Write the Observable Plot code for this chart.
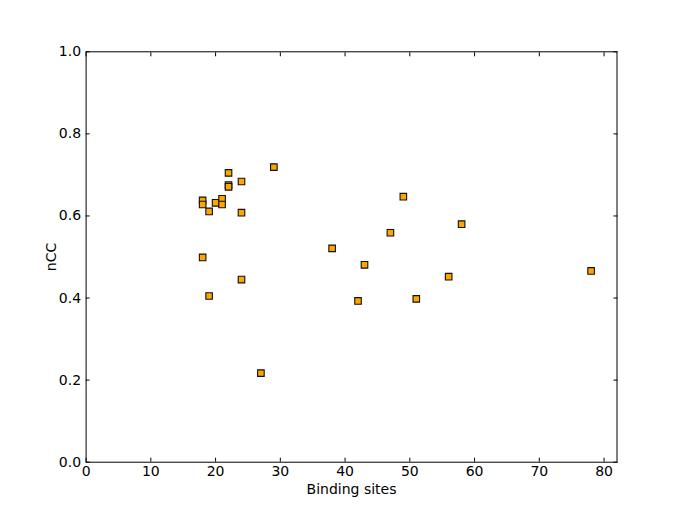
<!DOCTYPE html>
<html>
<head>
<meta charset="utf-8">
<script src="https://cdn.jsdelivr.net/npm/d3@7"></script>
<script src="https://cdn.jsdelivr.net/npm/@observablehq/plot@0.6"></script>
<style>
  html, body { margin: 0; padding: 0; background: #fff; }
  #chart svg { display: block; }
</style>
</head>
<body>
<div id="chart"></div>
<script>
const bindingSites = [29, 22, 24, 22, 22, 18, 18, 20, 21, 21, 19, 24, 18, 24, 19, 27, 49, 58, 47, 38, 43, 56, 42, 51, 78];
const nCC = [0.719, 0.705, 0.684, 0.675, 0.671, 0.638, 0.628, 0.632, 0.642, 0.628, 0.611, 0.608, 0.499, 0.445, 0.405, 0.217, 0.647, 0.580, 0.559, 0.521, 0.481, 0.452, 0.393, 0.398, 0.466];
const xTicks = [0, 10, 20, 30, 40, 50, 60, 70, 80];
const yTicks = [0.0, 0.2, 0.4, 0.6, 0.8, 1.0];

const data = bindingSites.map((x, i) => ({x, y: nCC[i]}));

const fontFamily = "'DejaVu Sans', Verdana, sans-serif";

const chart = Plot.plot({
  width: 685,
  height: 513,
  marginLeft: 85.6,
  marginRight: 68.5,
  marginTop: 51.3,
  marginBottom: 51.3,
  style: {fontFamily, fontSize: "14px", color: "black", background: "white"},
  x: {domain: [0, 82]},
  y: {domain: [0, 1]},
  marks: [
    Plot.frame({stroke: "black", strokeWidth: 1}),
    Plot.axisX(xTicks, {anchor: "bottom", tickSize: -4, tickPadding: 8, fontSize: 14, label: "Binding sites", labelAnchor: "center", labelOffset: 32, labelArrow: "none"}),
    Plot.axisX(xTicks, {anchor: "top", tickSize: -4, tickFormat: () => "", label: null}),
    Plot.axisY(yTicks, {anchor: "left", tickSize: -4, tickPadding: 9, tickFormat: d => d.toFixed(1), fontSize: 14, label: "nCC", labelAnchor: "center", labelOffset: 40, labelArrow: "none"}),
    Plot.axisY(yTicks, {anchor: "right", tickSize: -4, tickFormat: () => "", label: null}),
    Plot.dot(data, {x: "x", y: "y", symbol: "square", r: 3.7, fill: "#FFA500", stroke: "#111", strokeWidth: 1.1})
  ]
});

document.getElementById("chart").appendChild(chart);
</script>
</body>
</html>
